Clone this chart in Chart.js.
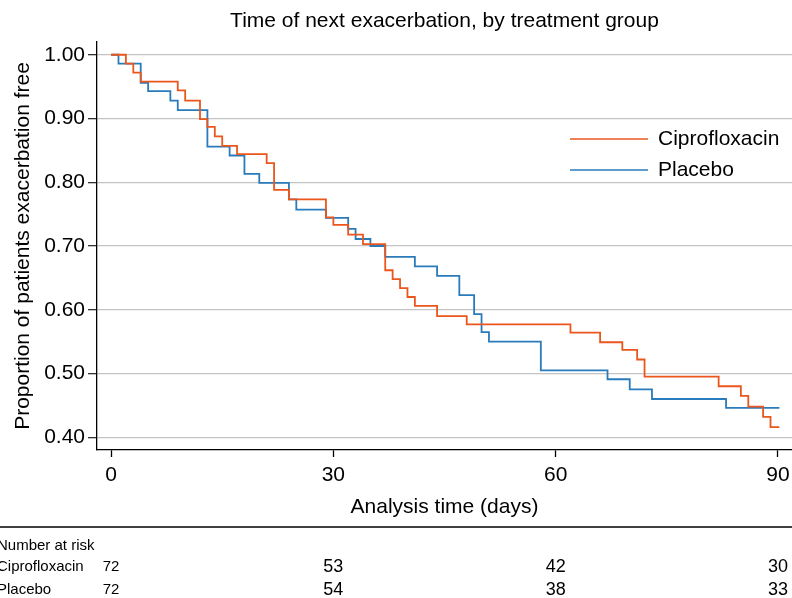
<!DOCTYPE html>
<html>
<head>
<meta charset="utf-8">
<title>Time of next exacerbation</title>
<script src="https://cdn.jsdelivr.net/npm/chart.js@4.4.0/dist/chart.umd.min.js"></script>
<style>
  html, body { margin: 0; padding: 0; background: #fff; }
  canvas { display: block; }
</style>
</head>
<body>
<canvas id="kmChart" width="792" height="598"></canvas>
<script>
// --- Kaplan-Meier steps (day of drop, proportion free after it) ---
const ciproDays = [0, 2, 3, 4, 9, 10, 12, 13, 14, 15, 17, 21, 22, 24, 29, 30, 32, 34, 37, 38, 39, 40, 41, 44, 48, 62, 66, 69, 71, 72, 82, 85, 86, 88, 89, 90.2];
const ciproSurv = [1.000, 0.986, 0.972, 0.958, 0.944, 0.928, 0.899, 0.887, 0.872, 0.857, 0.844, 0.830, 0.788, 0.773, 0.745, 0.733, 0.718, 0.703, 0.662, 0.648, 0.634, 0.620, 0.606, 0.590, 0.577, 0.564, 0.549, 0.537, 0.522, 0.495, 0.480, 0.465, 0.448, 0.432, 0.416, 0.416];

const placeboDays = [0, 1, 4, 5, 8, 9, 13, 16, 18, 20, 24, 25, 29, 32, 33, 35, 37, 41, 44, 47, 49, 50, 51, 58, 67, 70, 73, 83, 90.2];
const placeboSurv = [1.000, 0.986, 0.956, 0.943, 0.928, 0.913, 0.856, 0.842, 0.813, 0.799, 0.773, 0.757, 0.744, 0.727, 0.711, 0.700, 0.683, 0.668, 0.653, 0.623, 0.593, 0.565, 0.550, 0.505, 0.491, 0.475, 0.460, 0.446, 0.446];

// axis ticks
const xTicks = [0, 30, 60, 90];
const yTicks = [0.40, 0.50, 0.60, 0.70, 0.80, 0.90, 1.00];

// number at risk table
const riskDays = [0, 30, 60, 90];
const riskCipro = [72, 53, 42, 30];
const riskPlacebo = [72, 54, 38, 33];

const FONT = "'Liberation Sans', Arial, Helvetica, sans-serif";
const ORANGE = '#eb561c';
const BLUE = '#2a7bbb';

Chart.defaults.font.family = FONT;
Chart.defaults.color = '#000';

const toPoints = (days, surv) => days.map((d, i) => ({ x: d, y: surv[i] }));

// --- Legend inside the plot + number-at-risk table under the axis ---
const kmExtras = {
    id: 'kmExtras',
    afterDraw(chart) {
        const { ctx } = chart;
        const x = chart.scales.x;
        ctx.save();

        // legend
        chart.data.datasets.forEach((ds, i) => {
            const y = 139 + i * 31;
            ctx.strokeStyle = ds.borderColor;
            ctx.lineWidth = 1.6;
            ctx.beginPath();
            ctx.moveTo(570, y);
            ctx.lineTo(648, y);
            ctx.stroke();
            ctx.fillStyle = '#000';
            ctx.font = `21px ${FONT}`;
            ctx.textAlign = 'left';
            ctx.textBaseline = 'middle';
            ctx.fillText(ds.label, 658, y);
        });

        // separator line
        ctx.strokeStyle = '#000';
        ctx.lineWidth = 1.5;
        ctx.beginPath();
        ctx.moveTo(0, 527);
        ctx.lineTo(792, 527);
        ctx.stroke();

        ctx.fillStyle = '#000';
        ctx.textBaseline = 'middle';
        ctx.textAlign = 'left';
        ctx.font = `15px ${FONT}`;
        ctx.fillText('Number at risk', -3, 546);

        const rows = [[chart.data.datasets[0].label, riskCipro, 567], [chart.data.datasets[1].label, riskPlacebo, 590]];
        rows.forEach(([label, counts, y]) => {
            ctx.textAlign = 'left';
            ctx.font = `15px ${FONT}`;
            ctx.fillText(label, -3, y);
            counts.forEach((n, i) => {
                ctx.textAlign = 'center';
                ctx.font = (i === 0 ? '15px ' : '18px ') + FONT;
                ctx.fillText(String(n), x.getPixelForValue(riskDays[i]), y);
            });
        });

        ctx.restore();
    }
};

new Chart(document.getElementById('kmChart'), {
    type: 'line',
    data: {
        datasets: [
            {
                label: 'Ciprofloxacin',
                data: toPoints(ciproDays, ciproSurv),
                borderColor: ORANGE,
                borderWidth: 1.8,
                stepped: 'before',
                pointRadius: 0,
                fill: false
            },
            {
                label: 'Placebo',
                data: toPoints(placeboDays, placeboSurv),
                borderColor: BLUE,
                borderWidth: 1.8,
                stepped: 'before',
                pointRadius: 0,
                fill: false
            }
        ]
    },
    options: {
        responsive: false,
        animation: false,
        layout: { padding: 0 },
        plugins: {
            legend: { display: false },
            tooltip: { enabled: false },
            title: {
                display: true,
                fullSize: false,
                text: 'Time of next exacerbation, by treatment group',
                color: '#000',
                font: { size: 21, weight: 'normal' },
                padding: { top: 9, bottom: 7.8 }
            }
        },
        scales: {
            x: {
                type: 'linear',
                min: -1.9,
                max: 91.9,
                afterBuildTicks: s => { s.ticks = xTicks.map(v => ({ value: v })); },
                afterFit: s => { s.height = 148; s.paddingLeft = 0; s.paddingRight = 0; },
                grid: { drawOnChartArea: false, tickLength: 7, tickColor: '#000', tickWidth: 1.3 },
                border: { color: '#000', width: 1.3 },
                ticks: { font: { size: 21 }, padding: 6, maxRotation: 0, color: '#000' },
                title: {
                    display: true,
                    text: 'Analysis time (days)',
                    font: { size: 21 },
                    color: '#000',
                    padding: { top: 0, bottom: 78 }
                }
            },
            y: {
                min: 0.38,
                max: 1.02,
                afterBuildTicks: s => { s.ticks = yTicks.map(v => ({ value: v })); },
                afterFit: s => { s.width = 97; },
                grid: { color: '#c4c4c4', lineWidth: 1.3, tickLength: 9, tickColor: '#333' },
                border: { color: '#000', width: 1.3 },
                ticks: { font: { size: 21 }, padding: 3, color: '#000', callback: v => v.toFixed(2) },
                title: {
                    display: true,
                    text: 'Proportion of patients exacerbation free',
                    font: { size: 21 },
                    color: '#000',
                    padding: { top: 11, bottom: 0 }
                }
            }
        }
    },
    plugins: [kmExtras]
});
</script>
</body>
</html>
